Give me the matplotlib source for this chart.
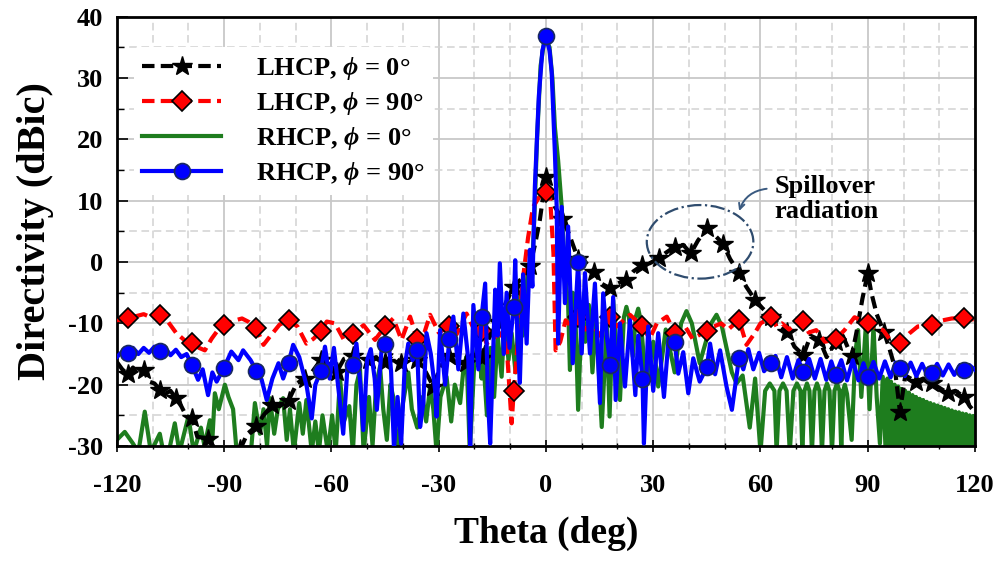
import matplotlib
matplotlib.use('Agg')
import matplotlib.pyplot as plt
from matplotlib.patches import Ellipse
from matplotlib.ticker import MultipleLocator

# LHCP, phi = 0 (black dashed, stars every 4.5 deg)
lh0_t = [-120, -118.5, -117, -115.5, -114, -112.5, -111, -109.5, -108, -106.5, -105, -103.5,
         -102, -100.5, -99, -97.5, -94.5, -92, -88, -85.5, -83.5, -81, -79, -76.5, -74.5, -72,
         -69.7, -67.5, -65.5, -63, -61, -58.5, -56.5, -54, -52, -49.5, -47.5, -45, -43, -40.5,
         -38.5, -36, -34, -31.5, -29.5, -27, -25, -22.5, -20.5, -18, -16, -13.5, -11.5, -9,
         -6.5, -4.5, -3, -1.7, -0.5, 0, 1.2, 2.5, 4.5, 6.5, 9, 11, 13.5, 15.5, 18, 20, 22.5,
         24.5, 27, 29, 31.5, 33.5, 36, 38.4, 40.5, 42.5, 45, 47, 49.5, 51.5, 54, 56, 58.5, 60.5,
         63, 65, 67.5, 69.5, 72, 74, 76.5, 78.5, 81, 83, 85.5, 87, 88.5, 90, 91, 92.5, 94.5, 96,
         97.5, 99, 100.5, 103.5, 105.5, 108, 110, 112.5, 114.5, 117, 118.5, 120]
lh0_v = [-16.3, -17.5, -18.3, -17.2, -18.5, -17.6, -19.5, -19.8, -20.8, -21.5, -21.0, -22.2,
         -23.5, -25.2, -25.5, -28.5, -28.8, -31, -31, -30.5, -28, -26.8, -25, -23.3, -23.5, -22.6,
         -19.8, -19.0, -18.0, -16.0, -16.5, -17.9, -15.8, -15.3, -16.5, -16.0, -15.5, -16.3, -15.2,
         -16.4, -15.5, -16.0, -17.5, -20.3, -17.0, -15.3, -16.5, -16.4, -15.0, -15.7, -12.5, -9.7,
         -7.0, -4.0, -2.5, -0.7, 3.0, 6.9, 12.0, 13.9, 12.0, 9.0, 7.1, 4.5, 0.5, 0.0, -1.6, -3.5,
         -4.3, -3.5, -2.9, -1.5, -0.5, -0.2, 0.6, 1.5, 2.5, 2.8, 1.4, 3.5, 5.5, 4.5, 3.0, 0.5,
         -1.8, -4.0, -6.2, -7.5, -8.9, -10.0, -11.4, -13.8, -15.2, -12.0, -12.7, -15.5, -13.0,
         -12.0, -15.4, -11.0, -6.0, -1.8, -5.0, -8.5, -11.4, -14.0, -17.0, -24.4, -18.5, -19.5,
         -19.0, -19.8, -20.5, -21.4, -21.0, -22.0, -23.5, -24.5]

# LHCP, phi = 90 (red dashed, diamonds every 9 deg)
lh90_t = [-120, -117, -114.5, -112.5, -110.5, -108, -106, -103.5, -101, -99, -97, -95.4, -93.5,
          -92, -90, -87.5, -85, -83, -81, -79, -77, -74.5, -72, -69.5, -67, -65, -63, -61.3, -59,
          -56.2, -54, -51, -47.8, -45, -42.7, -40.4, -38, -36, -34, -32.4, -30, -27, -25, -22.2,
          -20.5, -18, -16.6, -12.9, -11, -9.6, -9, -8, -6.5, -5, -3.6, -2, 0, 1.1, 2.1, 2.7, 4,
          5.5, 7, 9, 11, 13, 15, 18, 19.8, 23.5, 27, 29, 31, 33.8, 36, 38.9, 41, 45, 47, 49, 51,
          54, 56.1, 58.5, 60, 63, 64.5, 66, 68, 70, 72, 73.5, 75.6, 78, 81, 83.5, 86.3, 90, 91,
          94.3, 96, 99, 101.7, 104, 108, 109.5, 111, 113.5, 117, 118.5, 120]
lh90_v = [-9.5, -9.2, -8.8, -8.5, -9.0, -8.6, -9.5, -11.5, -12.8, -13.2, -14.0, -14.4, -12.5,
          -11.3, -10.3, -9.6, -9.2, -9.8, -10.8, -13.5, -12.0, -10.2, -9.5, -10.5, -13.3, -12.5,
          -11.3, -9.7, -10.0, -13.0, -11.7, -10.3, -12.7, -10.5, -9.2, -12.7, -8.9, -12.6, -11.5,
          -8.6, -11.5, -10.5, -11.8, -8.4, -10.5, -11.2, -13.3, -11.6, -13.5, -26.3, -21.0, -14.0,
          -3.0, 4.0, 9.0, 10.5, 11.5, 11.2, 1.4, -14.4, -13.0, -9.5, -10.5, -9.0, -11.0, -10.0,
          -12.0, -9.0, -10.5, -8.6, -10.5, -12.5, -10.0, -8.9, -11.5, -10.5, -12.5, -11.2, -10.5,
          -10.0, -11.0, -9.4, -13.5, -11.5, -10.0, -9.0, -10.5, -10.0, -11.0, -10.0, -9.6, -11.5,
          -11.1, -13.0, -12.6, -11.1, -9.0, -10.0, -10.5, -11.1, -12.5, -13.2, -11.6, -10.5,
          -10.3, -10.0, -9.5, -9.2, -9.1, -9.4, -9.3]

# RHCP, phi = 0 (green, no markers)
rh0_t = [-120, -117.8, -115.5, -114, -112.2, -110.5, -108, -107, -105.5, -103.8, -102.5, -100,
         -98.5, -96.5, -95.5, -94, -93.3, -92.6, -91.5, -89.8, -88.8, -87.5, -86.5, -82.5, -81.4,
         -80, -79, -78, -77.2, -76, -75, -73.5, -72.5, -71.6, -70.5, -69, -68, -67, -65.5, -64.5,
         -63.5, -62.5, -61, -59.8, -58.8, -57.6, -56.5, -55, -54, -53, -52, -51, -49.5, -48.5,
         -47.5, -46.4, -45.5, -44.5, -43.5, -42.7, -41.5, -40, -38.5, -37.5, -36, -34.5, -33.5,
         -32.4, -31.5, -30.6, -29.5, -27.8, -26.5, -25.5, -24, -23, -22.2, -21.3, -20, -19, -18,
         -17.5, -16.5, -15.5, -14.5, -13.5, -12.4, -11.5, -10.5, -9.6, -8.5, -7.3, -6.5, -5, -4,
         -3.2, -2.5, -1.5, -0.5, 0, 1, 1.8, 2.5, 3.4, 4.4, 5.3, 6.2, 6.7, 7.5, 8.3, 9, 10, 11, 12,
         13, 14, 15.6, 17, 17.8, 18.8, 20.7, 21.8, 22.5, 23.2, 24.3, 25.1, 25.8, 26.5, 28, 30,
         31.4, 33.5, 36, 37.8, 39.3, 40.8, 43, 46.2, 47.7, 49.2, 52, 53.3, 55, 57, 58.5, 60, 61.3,
         62.6, 63.9, 64.5, 65.3, 66.3, 67.3, 68.2, 69.2, 70.2, 71.2, 71.7, 72.3, 73, 73.7, 74.4,
         75.1, 75.8, 76.5, 77.2, 77.9, 78.6, 79.3, 80, 80.7, 81.4, 82.1, 82.6, 83.1, 83.6, 84.2,
         85.5, 86.5, 87.3, 88.2, 89.5, 90.5, 91.6, 92.5, 93.4, 94.2, 95, 95.5, 96, 96.5, 97, 97.5,
         98, 98.5, 99, 99.5, 100, 100.5, 101, 101.5, 102, 102.5, 103, 103.5, 104, 104.5, 105,
         105.5, 106, 106.5, 107, 107.5, 108, 108.5, 109, 109.5, 110, 110.5, 111, 111.5, 112,
         112.5, 113, 113.5, 114, 114.5, 115, 115.5, 116, 116.5, 117, 117.5, 118, 118.5, 119,
         119.5, 120]
rh0_v = [-29.0, -27.7, -29.6, -31, -24.4, -31, -28.0, -31, -31, -26.3, -31, -25.2,
         -31, -27.0, -30.0, -25.8, -29.0, -21.4, -24.0, -20.0, -22.0, -24.0, -31, -31, -23.0,
         -28.0, -24.0, -30.0, -22.2, -28.0, -24.0, -22.2, -29.0, -24.0, -31, -23.0, -28.0, -22.5,
         -31, -26.0, -31, -25.0, -31, -25.0, -31, -19.0, -26.0, -23.5, -31, -20.0, -17.6, -31,
         -22.0, -30.0, -20.0, -17.0, -24.0, -29.0, -20.0, -22.0, -31, -23.0, -18.0, -24.0, -27.0,
         -22.0, -26.0, -20.3, -24.0, -31, -22.0, -18.7, -26.0, -20.0, -23.0, -17.0, -15.4, -31,
         -16.0, -13.0, -19.0, -16.0, -25.0, -14.0, -22.0, -12.0, -18.7, -8.4, -16.0, -11.6,
         -18.0, -5.1, -12.0, -1.0, -3.0, 8.0, 20.0, 32.0, 36.0, 36.5, 35.0, 30.0, 22.0, 16.6,
         9.0, -2.0, -6.7, -17.6, -5.0, -10.0, -24.1, -8.0, -13.0, -7.0, -18.0, -9.0, -26.9,
         -10.0, -25.2, -6.2, -22.5, -9.0, -7.3, -9.0, -15.4, -9.0, -7.6, -9.5, -20.0, -13.0,
         -20.3, -11.0, -18.0, -10.0, -8.0, -10.0, -16.5, -10.0, -8.6, -10.5, -18.0, -19.8, -18.5,
         -27.0, -19.0, -31, -21.0, -19.8, -21.0, -31, -21.0, -19.8, -21.0, -31, -21.0, -19.8,
         -21.0, -31, -21.0, -19.8, -21.0, -31, -21.0, -19.8, -21.0, -31, -21.0, -19.8, -21.0,
         -31, -21.0, -19.8, -21.0, -31, -21.0, -20.0, -21.5, -29.0, -15.0, -11.1, -22.0, -10.0,
         -24.0, -10.5, -22.0, -29.6, -18.7, -31, -19.0, -31, -19.5, -31, -20.0, -31, -20.3, -31,
         -20.7, -31, -21.0, -31, -21.3, -31, -21.7, -31, -22.0, -31, -22.3, -31, -22.5, -31,
         -22.8, -31, -23.0, -31, -23.2, -31, -23.4, -31, -23.6, -31, -23.8, -31, -24.0, -31,
         -24.2, -31, -24.4, -31, -24.5, -31, -24.7, -31, -24.8, -31, -25.0, -31, -25.1, -31]

# RHCP, phi = 90 (blue, circles every 9 deg)
rh90_t = [-120, -118.5, -117, -115.5, -114, -112.5, -111, -109.5, -108, -106.5, -105, -103.5,
          -102, -100.5, -99, -97.3, -96, -94.5, -93.3, -92.1, -90, -88, -86, -84.7, -82.6, -81,
          -79.5, -78.1, -76.5, -74.8, -73.5, -72, -70.7, -69, -66.9, -65.5, -64.5, -63, -61.8,
          -60.5, -59.3, -57.6, -56.7, -55.5, -54, -53, -51.9, -51.1, -50, -49, -47.9, -47.3, -46,
          -45, -44, -43.3, -42.5, -41.5, -40.5, -39.5, -38.5, -37.3, -36, -35.2, -34.3, -33.4,
          -32.2, -31, -30.6, -29.6, -28.2, -27, -25.9, -24.5, -23.1, -21.7, -21.2, -20.3, -18.9,
          -18, -17, -16.2, -15.6, -14.2, -13.5, -12.9, -11.8, -11, -10.2, -9, -8.6, -8, -7.3, -6.4,
          -5.4, -4.5, -3.8, -3.1, -2, -1, 0, 1, 1.6, 2.5, 3, 3.4, 4.4, 5.3, 6.2, 7.5, 9, 10, 10.9,
          12.3, 13.7, 15.1, 16, 17, 18, 18.8, 19.5, 20.7, 22.1, 23.5, 25, 25.8, 27, 27.4, 28.6, 30,
          31.4, 33, 34.3, 36, 37, 38.4, 39.8, 41.2, 43, 45, 45.9, 47.3, 48.7, 50.5, 52, 54, 55.2,
          56.6, 58, 59.6, 61, 63, 64.2, 65.8, 67.4, 69, 70.6, 72, 73.6, 75.2, 76.8, 78.4, 79.8,
          81, 82.6, 84.2, 85.8, 87.4, 88.8, 90, 91.6, 93.2, 94.8, 96.4, 97.8, 99, 100.4, 102,
          103.6, 105.2, 106.6, 108, 109.4, 111, 112.6, 114.2, 115.8, 117, 118.4, 120]
rh90_v = [-15.5, -14.6, -14.8, -14.0, -15.0, -14.0, -14.8, -13.8, -14.5, -14.0, -15.2, -14.3,
          -15.5, -15.0, -16.8, -19.2, -17.5, -21.7, -18.0, -19.5, -17.2, -14.6, -16.0, -14.4,
          -16.0, -17.7, -19.2, -22.5, -19.0, -16.5, -19.0, -16.5, -13.5, -15.5, -20.3, -25.5,
          -20.0, -17.8, -13.8, -19.0, -14.0, -23.0, -28.0, -17.0, -16.8, -13.3, -20.0, -27.4,
          -16.0, -14.2, -19.0, -24.1, -14.5, -13.4, -12.8, -18.0, -30.5, -22.0, -29.6, -17.0,
          -13.3, -16.0, -14.4, -26.9, -23.0, -11.6, -15.0, -20.9, -25.2, -11.1, -20.0, -12.6,
          -8.9, -17.5, -8.4, -16.0, -30.0, -7.0, -17.5, -8.9, -3.5, -22.5, -29.6, -4.5, -12.0,
          -0.2, -15.0, -5.0, -14.0, -7.3, 0.3, -12.0, -19.7, -2.0, -13.3, 2.0, -4.0, 12.3, 27.0,
          34.5, 36.8, 34.5, 31.0, 17.8, 9.0, -13.3, 9.0, -6.7, 5.8, -16.5, 0.0, -14.9, -1.8, -14.9,
          -3.5, -23.0, -5.1, -12.0, -16.8, -5.7, -22.5, -10.0, -20.3, -9.5, -21.7, -12.0, -19.0,
          -29.6, -10.5, -21.0, -11.6, -22.0, -12.5, -13.0, -18.2, -14.7, -21.4, -15.7, -19.5,
          -17.1, -13.3, -18.3, -14.4, -20.3, -24.1, -15.6, -17.5, -14.2, -17.5, -14.8, -17.8,
          -16.4, -15.3, -18.8, -15.5, -19.0, -16.0, -17.9, -15.8, -19.0, -15.8, -19.2, -16.2,
          -18.4, -16.0, -19.3, -16.0, -19.3, -16.5, -18.7, -16.3, -19.0, -16.2, -18.8, -16.4,
          -17.3, -18.6, -16.4, -18.6, -16.6, -18.4, -18.1, -16.6, -18.5, -16.7, -18.4, -16.8,
          -17.6, -16.8, -17.6]

labels = [r'LHCP, $\phi$ = 0°', r'LHCP, $\phi$ = 90°', r'RHCP, $\phi$ = 0°', r'RHCP, $\phi$ = 90°']


def every(theta, step):
    # marker positions: -117 deg onwards, one per step
    return [abs((t + 117) / step - round((t + 117) / step)) < 1e-6 for t in theta]


plt.rcParams['font.family'] = 'Liberation Serif'
plt.rcParams['font.weight'] = 'bold'
plt.rcParams['axes.labelweight'] = 'bold'
plt.rcParams['axes.unicode_minus'] = False
plt.rcParams['mathtext.fontset'] = 'custom'
plt.rcParams['mathtext.it'] = 'Liberation Serif:italic:bold'
plt.rcParams['mathtext.rm'] = 'Liberation Serif:bold'

fig = plt.figure(figsize=(9.99, 5.61), dpi=100)
ax = fig.add_axes([0.117, 0.205, 0.859, 0.765])

ax.plot(rh0_t, rh0_v, color='#1e7d1e', lw=3.0, zorder=2, label=labels[2])
ax.plot(lh0_t, lh0_v, color='black', lw=3.0, dashes=(3, 1.5), marker='*', ms=15,
        mfc='black', mec='black', markevery=every(lh0_t, 4.5), zorder=3, label=labels[0])
ax.plot(lh90_t, lh90_v, color='red', lw=3.0, dashes=(3, 1.5), marker='D', ms=10.5,
        mfc='red', mec='black', mew=1.2, markevery=every(lh90_t, 9), zorder=3, label=labels[1])
ax.plot(rh90_t, rh90_v, color='blue', lw=3.0, marker='o', ms=11.5, mfc='blue', mec='#1a2a60',
        mew=1.2, markevery=every(rh90_t, 9), zorder=4, label=labels[3])

ax.add_patch(Ellipse((43.1, 3.3), 29.8, 12, fill=False, ls='-.', ec='#2f4c6e', lw=1.6, zorder=5))
ax.annotate('', xy=(53.8, 7.9), xytext=(62.5, 12),
            arrowprops=dict(arrowstyle='->', color='#3a5a80', lw=1.4,
                            connectionstyle='arc3,rad=0.35'))
ax.text(64, 10.3, 'Spillover\nradiation', fontsize=19, ha='left', va='center', linespacing=1.15)

ax.set_xlim(-120, 120)
ax.set_ylim(-30, 40)
ax.xaxis.set_major_locator(MultipleLocator(30))
ax.xaxis.set_minor_locator(MultipleLocator(10))
ax.yaxis.set_major_locator(MultipleLocator(10))
ax.yaxis.set_minor_locator(MultipleLocator(5))
ax.set_axisbelow(True)
ax.grid(which='major', color='#c8c8c8', lw=1.3)
ax.grid(which='minor', color='#d2d2d2', lw=1.1, ls=(0, (5, 3)))
ax.tick_params(axis='x', which='both', direction='inout', labelsize=19, pad=16)
ax.tick_params(axis='y', which='both', direction='in', labelsize=19, pad=10)
ax.tick_params(which='major', length=8, width=1.2)
ax.tick_params(which='minor', length=5, width=1.0)
for s in ax.spines.values():
    s.set_linewidth(2)

ax.set_xlabel('Theta (deg)', fontsize=27, labelpad=14)
ax.set_ylabel('Directivity (dBic)', fontsize=29, labelpad=10)

order = [1, 2, 0, 3]
h, l = ax.get_legend_handles_labels()
leg = ax.legend([h[i] for i in order], [l[i] for i in order], loc='upper left',
                bbox_to_anchor=(0.005, 0.96), fontsize=19, handlelength=3.0, handletextpad=1.3,
                labelspacing=0.3, frameon=True, facecolor='white', edgecolor='none',
                framealpha=1, borderpad=0.3)
leg.set_zorder(6)

fig.savefig('out.png', dpi=100)
